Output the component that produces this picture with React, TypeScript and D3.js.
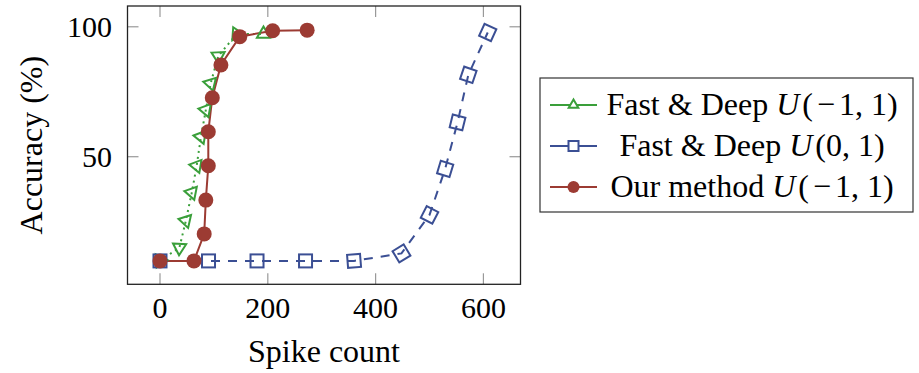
import * as d3 from "d3";

const greenX = [0, 36, 48, 59, 68, 76, 85, 94, 108, 142, 192];
const greenY = [10, 15, 25.4, 36.2, 46.5, 57.7, 68, 78.2, 88.7, 97.2, 97.2];

const blueX = [0, 90, 180, 270, 360, 448, 500, 529, 552, 572, 608];
const blueY = [9.9, 9.9, 9.9, 9.9, 9.9, 12.8, 27.6, 45.3, 63.2, 81.5, 97.8];

const redX = [0, 63, 82, 85, 89.6, 89.6, 97, 113, 148, 209, 273];
const redY = [9.9, 9.9, 20.3, 33.3, 46.5, 59.6, 72.7, 85.3, 96.2, 98.5, 98.7];

const xTicks = [0, 200, 400, 600];
const yTicks = [50, 100];

const seriesNames = ["Fast & Deep", "Fast & Deep", "Our method"];
const seriesArgs = [[-1, 1], [0, 1], [-1, 1]];

const GREEN = "#3a9f3a";
const BLUE = "#3b4f94";
const RED = "#9c3b33";
const TICK = "#999";
const FONT = "Liberation Serif, DejaVu Serif, Times New Roman, serif";

const box = { left: 127.5, right: 520.5, top: 6, bottom: 284.3 };

const x = d3.scaleLinear().domain([-60.3, 668.8]).range([box.left, box.right]);
const y = d3.scaleLinear().domain([0.9, 108]).range([box.bottom, box.top]);

type Pt = [number, number];

const toPts = (xs: number[], ys: number[]): Pt[] => xs.map((v, i) => [x(v), y(ys[i])]);

// angle of the path around point i, so the marks follow the curve
const angleAt = (pts: Pt[], i: number) => {
  const a = pts[Math.max(0, i - 1)];
  const b = pts[Math.min(pts.length - 1, i + 1)];
  return (Math.atan2(b[1] - a[1], b[0] - a[0]) * 180) / Math.PI;
};

const line = d3.line<Pt>();

// "Name U(a, b)" with a TeX-ish wide minus
const Label = ({ name, arg }: { name: string; arg: number[] }) => (
  <>
    {name} <tspan fontStyle="italic">U</tspan>
    <tspan dx="3">(</tspan>
    {arg[0] < 0 ? (
      <>
        <tspan dx="4">−</tspan>
        <tspan dx="4">{Math.abs(arg[0])}</tspan>
      </>
    ) : (
      <tspan>{arg[0]}</tspan>
    )}
    <tspan>, {arg[1]})</tspan>
  </>
);

export default function App() {
  const g = toPts(greenX, greenY);
  const b = toPts(blueX, blueY);
  const r = toPts(redX, redY);
  const tri = d3.symbol(d3.symbolTriangle, 75)() as string;
  const triSmall = d3.symbol(d3.symbolTriangle, 40)() as string;

  const legend = { x: 540, y: 78, w: 373, h: 134 };
  const rows = [105, 146, 187];
  const textX = 752;

  return (
    <svg
      width={919}
      height={373}
      style={{ position: "absolute", left: 0, top: 0, background: "#fff", fontFamily: FONT }}
    >
      {/* ticks */}
      {xTicks.map((t) => (
        <g key={"x" + t} stroke={TICK} strokeWidth={1.2}>
          <line x1={x(t)} x2={x(t)} y1={box.bottom} y2={box.bottom - 11} />
          <line x1={x(t)} x2={x(t)} y1={box.top} y2={box.top + 11} />
        </g>
      ))}
      {yTicks.map((t) => (
        <g key={"y" + t} stroke={TICK} strokeWidth={1.2}>
          <line x1={box.left} x2={box.left + 11} y1={y(t)} y2={y(t)} />
          <line x1={box.right} x2={box.right - 11} y1={y(t)} y2={y(t)} />
        </g>
      ))}
      {xTicks.map((t) => (
        <text key={"xl" + t} x={x(t)} y={318} fontSize={30} textAnchor="middle">
          {t}
        </text>
      ))}
      {yTicks.map((t) => (
        <text key={"yl" + t} x={112} y={y(t) + 10} fontSize={30} textAnchor="end">
          {t}
        </text>
      ))}

      {/* series lines */}
      <path d={line(g) as string} fill="none" stroke={GREEN} strokeWidth={2} strokeDasharray="2,4" />
      <path d={line(b) as string} fill="none" stroke={BLUE} strokeWidth={2} strokeDasharray="9,8" />
      <path d={line(r) as string} fill="none" stroke={RED} strokeWidth={2} />

      {/* marks */}
      {g.map((p, i) => (
        <path
          key={"gm" + i}
          d={tri}
          transform={`translate(${p[0]},${p[1]}) rotate(${angleAt(g, i)})`}
          fill="none"
          stroke={GREEN}
          strokeWidth={2}
        />
      ))}
      {b.map((p, i) => (
        <rect
          key={"bm" + i}
          x={-6.5}
          y={-6.5}
          width={13}
          height={13}
          transform={`translate(${p[0]},${p[1]}) rotate(${angleAt(b, i)})`}
          fill="none"
          stroke={BLUE}
          strokeWidth={2}
        />
      ))}
      {r.map((p, i) => (
        <circle key={"rm" + i} cx={p[0]} cy={p[1]} r={7.5} fill={RED} />
      ))}

      {/* frame */}
      <rect
        x={box.left}
        y={box.top}
        width={box.right - box.left}
        height={box.bottom - box.top}
        fill="none"
        stroke="#222"
        strokeWidth={1.3}
      />

      {/* axis titles */}
      <text x={(box.left + box.right) / 2} y={362} fontSize={32} textAnchor="middle">
        Spike count
      </text>
      <text
        transform={`translate(42,${(box.top + box.bottom) / 2}) rotate(-90)`}
        fontSize={32}
        textAnchor="middle"
      >
        Accuracy (%)
      </text>

      {/* legend */}
      <rect x={legend.x} y={legend.y} width={legend.w} height={legend.h} fill="#fff" stroke="#333" strokeWidth={1.2} />
      <line x1={550} x2={597} y1={rows[0]} y2={rows[0]} stroke={GREEN} strokeWidth={2} />
      <path d={triSmall} transform={`translate(573.5,${rows[0]})`} fill="#fff" stroke={GREEN} strokeWidth={2} />
      <line x1={550} x2={597} y1={rows[1]} y2={rows[1]} stroke={BLUE} strokeWidth={2} />
      <rect x={568.5} y={rows[1] - 5} width={10} height={10} fill="#fff" stroke={BLUE} strokeWidth={2} />
      <line x1={550} x2={597} y1={rows[2]} y2={rows[2]} stroke={RED} strokeWidth={2} />
      <circle cx={573.5} cy={rows[2]} r={6} fill={RED} />

      {seriesNames.map((n, i) => (
        <text key={"lt" + i} x={textX} y={rows[i] + 10} fontSize={32} textAnchor="middle">
          <Label name={n} arg={seriesArgs[i]} />
        </text>
      ))}
    </svg>
  );
}
